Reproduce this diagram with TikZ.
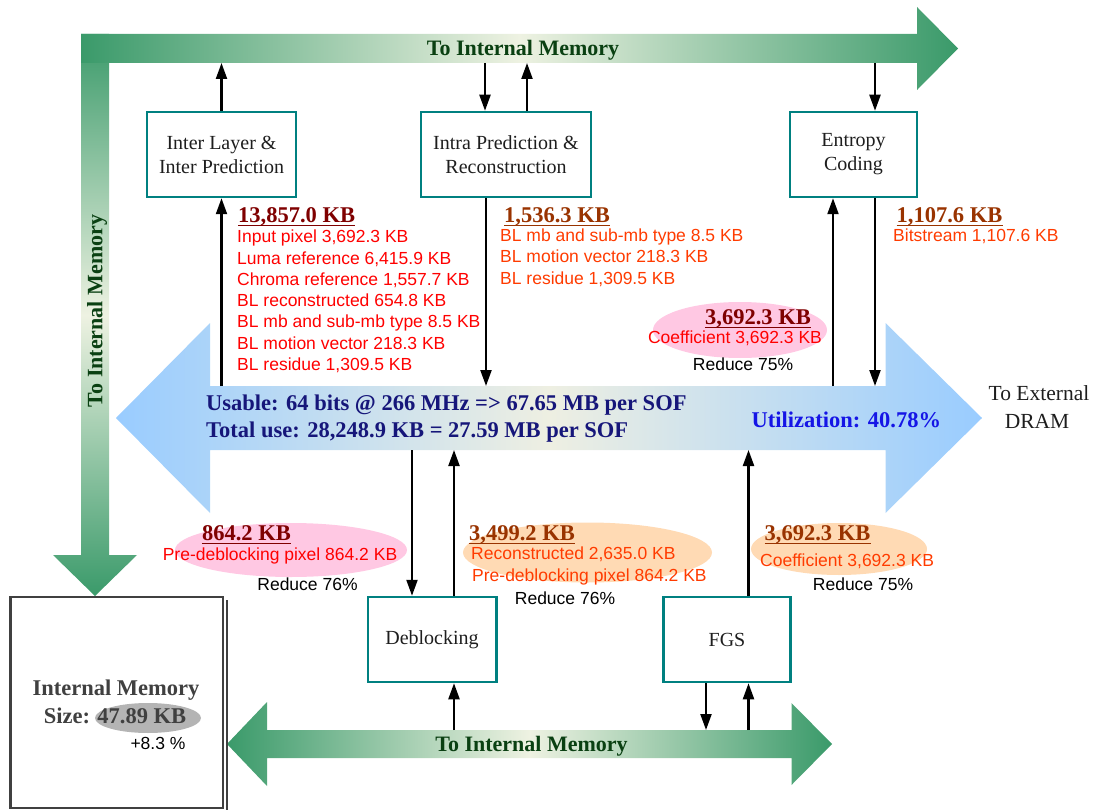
\documentclass[tikz,border=0pt]{standalone}
\usepackage{fontspec}
\setmainfont{Liberation Serif}
\newfontfamily\arialf{Liberation Sans}
\usetikzlibrary{arrows.meta}
\newcommand{\fsz}[1]{\fontsize{#1}{#1}\selectfont}
\definecolor{gdark}{HTML}{3A9A6A}
\definecolor{glight}{HTML}{EEF2E2}
\definecolor{gtext}{HTML}{0A4012}
\definecolor{bblue}{HTML}{99CCFF}
\definecolor{bivory}{HTML}{EEEFE2}
\definecolor{navy}{HTML}{16167A}
\definecolor{utilblue}{HTML}{1515E6}
\definecolor{boxteal}{HTML}{008080}
\definecolor{boxtxt}{HTML}{1E1E1E}
\definecolor{memgray}{HTML}{404040}
\definecolor{hdrred}{HTML}{7F0000}
\definecolor{hdrbrown}{HTML}{993300}
\definecolor{itred}{HTML}{FF0000}
\definecolor{itorange}{HTML}{FF3B00}
\definecolor{pinkE}{HTML}{FFC8E3}
\definecolor{peachE}{HTML}{FFDAB4}
\definecolor{grayE}{HTML}{B4B4B4}
\begin{document}
\begin{tikzpicture}[x=1pt,y=-1pt,
  conn/.style={line width=2.2pt,-{Triangle[length=16pt,width=11pt]}},
  procbox/.style={draw=boxteal,line width=2.5pt,fill=white,minimum width=#1,
    minimum height=85pt,inner sep=0pt,align=center,text=boxtxt,
    font=\fontsize{20}{24}\selectfont},
  hdr/.style={anchor=base west,inner sep=0pt,font=\fsz{22.5}\bfseries},
  hdrc/.style={anchor=base,inner sep=0pt,font=\fsz{22.5}\bfseries},
  item/.style={anchor=base west,inner sep=0pt,font=\arialf\fsz{17.5}},
  itemc/.style={anchor=base,inner sep=0pt,font=\arialf\fsz{17.5}},
  ul/.style={line width=1.5pt},
  bartext/.style={inner sep=0pt,text=gtext,font=\fsz{22}\bfseries},
  bluetext/.style={anchor=base west,inner sep=0pt,text=navy,font=\fsz{22.5}\bfseries}]
\useasboundingbox (0,0) rectangle (1097,810);

% green bars
\shade[top color=gdark,bottom color=gdark,middle color=glight]
  (81,34) -- (109,34) -- (109,555) -- (137,555) -- (95,596) -- (53,555) -- (81,555) -- cycle;
\shade[left color=gdark,right color=gdark,middle color=glight]
  (81,34) -- (917,34) -- (917,7) -- (958,48.5) -- (917,90) -- (917,63) -- (81,63) -- cycle;
\shade[left color=gdark,right color=gdark,middle color=glight]
  (227,744) -- (267,702) -- (267,730) -- (791.5,730) -- (791.5,703) -- (832,744)
  -- (791.5,785) -- (791.5,758) -- (267,758) -- (267,786) -- cycle;
% blue arrow
\shade[left color=bblue,right color=bblue,middle color=bivory]
  (116,418) -- (210,323) -- (210,386) -- (885.5,386) -- (885.5,323) -- (982,418)
  -- (885.5,513) -- (885.5,450) -- (210,450) -- (210,513) -- cycle;

\node[bartext,anchor=base] (toptxt) at (523,55.5) {To Internal Memory};
\node[bartext,anchor=base] (bottxt) at (531.5,751.5) {To Internal Memory};
\node[bartext,rotate=90] (lefttxt) at (97,311) {To Internal Memory};

% level coordinates
\coordinate (topbar) at (0,63);
\coordinate (bluetop) at (0,386);
\coordinate (bluebot) at (0,450);
\coordinate (botbar) at (0,730);

% process boxes
\node[procbox=149pt] (inter) at (221.5,154.5) {Inter Layer \&\\Inter Prediction};
\node[procbox=170pt] (intra) at (506,154.5) {Intra Prediction \&\\Reconstruction};
\node[procbox=127pt] (entropy) at (853.5,154.5) {Entropy\\Coding};
\node[procbox=128.5pt] (deblock) at (432,639.5) {Deblocking};
\node[procbox=127pt] (fgs) at (727,639.5) {FGS};

% internal memory box
\node[draw=memgray,line width=2.5pt,minimum width=212.5pt,minimum height=211pt,inner sep=0pt] (mem) at (116.75,702.5) {};
\draw[memgray,line width=2pt] (226.5,600) -- (226.5,810);
\fill[grayE] (148,718) ellipse [x radius=53pt,y radius=15pt];
\node[hdrc,text=memgray] (memt1) at (116,695.5) {Internal Memory};
\node[hdrc,text=memgray] (memt2) at (115,723.5) {Size: 47.89 KB};
\node[itemc,text=black] (memt3) at (158,749) {+8.3 \%};

% connectors
\draw[conn] (inter.north) -- (inter.north |- topbar);
\draw[conn] ([xshift=-21pt]intra.north |- topbar) -- ([xshift=-21pt]intra.north);
\draw[conn] ([xshift=21pt]intra.north) -- ([xshift=21pt]intra.north |- topbar);
\draw[conn] ([xshift=21.5pt]entropy.north |- topbar) -- ([xshift=21.5pt]entropy.north);
\draw[conn] (inter.south |- bluetop) -- (inter.south);
\draw[conn] ([xshift=-20pt]intra.south) -- ([xshift=-20pt]intra.south |- bluetop);
\draw[conn] ([xshift=-20.5pt]entropy.south |- bluetop) -- ([xshift=-20.5pt]entropy.south);
\draw[conn] ([xshift=21.5pt]entropy.south) -- ([xshift=21.5pt]entropy.south |- bluetop);
\draw[conn] ([xshift=-20pt]deblock.north |- bluebot) -- ([xshift=-20pt]deblock.north);
\draw[conn] ([xshift=22pt]deblock.north) -- ([xshift=22pt]deblock.north |- bluebot);
\draw[conn] ([xshift=21.5pt]fgs.north) -- ([xshift=21.5pt]fgs.north |- bluebot);
\draw[conn] ([xshift=22pt]deblock.south |- botbar) -- ([xshift=22pt]deblock.south);
\draw[conn] ([xshift=-21pt]fgs.south) -- ([xshift=-21pt]fgs.south |- botbar);
\draw[conn] ([xshift=21.5pt]fgs.south |- botbar) -- ([xshift=21.5pt]fgs.south);

% blue arrow texts
\node[bluetext] (use1) at (206,410.5) {Usable: 64 bits @ 266 MHz => 67.65 MB per SOF};
\node[bluetext] (use2) at (206,437.5) {Total use: 28,248.9 KB = 27.59 MB per SOF};
\node[bluetext,text=utilblue] (util) at (751.5,427.5) {Utilization: 40.78\%};
\node[anchor=base,inner sep=0pt,font=\fsz{21.5},text=boxtxt,align=center] (ext1) at (1039,400) {To External};
\node[anchor=base,inner sep=0pt,font=\fsz{21.5},text=boxtxt] (ext2) at (1037,428) {DRAM};

% left block
\node[hdr,text=hdrred] (h1) at (238,222.5) {13,857.0 KB};
\draw[ul,hdrred] ([yshift=-3pt]h1.base west) -- ([yshift=-3pt]h1.base east);
\node[item,text=itred] (l1) at (237,243) {Input pixel 3,692.3 KB};
\node[item,text=itred] (l2) at (237,264.2) {Luma reference 6,415.9 KB};
\node[item,text=itred] (l3) at (237,285.4) {Chroma reference 1,557.7 KB};
\node[item,text=itred] (l4) at (237,306.6) {BL reconstructed 654.8 KB};
\node[item,text=itred] (l5) at (237,327.8) {BL mb and sub-mb type 8.5 KB};
\node[item,text=itred] (l6) at (237,349) {BL motion vector 218.3 KB};
\node[item,text=itred] (l7) at (237,370.2) {BL residue 1,309.5 KB};

% middle block
\node[hdr,text=hdrbrown] (h2) at (504,222.5) {1,536.3 KB};
\draw[ul,hdrbrown] ([yshift=-3pt]h2.base west) -- ([yshift=-3pt]h2.base east);
\node[item,text=itorange] (m1) at (500,242) {BL mb and sub-mb type 8.5 KB};
\node[item,text=itorange] (m2) at (500,263) {BL motion vector 218.3 KB};
\node[item,text=itorange] (m3) at (500,284) {BL residue 1,309.5 KB};

% right block
\node[hdr,text=hdrbrown] (h3) at (896.5,222.5) {1,107.6 KB};
\draw[ul,hdrbrown] ([yshift=-3pt]h3.base west) -- ([yshift=-3pt]h3.base east);
\node[item,text=itorange] (r1) at (893,242) {Bitstream 1,107.6 KB};

% pink ellipse top right
\fill[pinkE] (740,330) ellipse [x radius=87pt,y radius=28pt];
\node[hdrc,text=hdrred] (h4) at (758,324.5) {3,692.3 KB};
\draw[ul,hdrred] ([yshift=-3pt]h4.base west) -- ([yshift=-3pt]h4.base east);
\node[itemc,text=itred] (p1) at (735,343) {Coefficient 3,692.3 KB};
\node[itemc,text=black] (p2) at (743,370) {Reduce 75\%};

% pink ellipse bottom left
\fill[pinkE] (291,550) ellipse [x radius=116pt,y radius=27pt];
\node[hdrc,text=hdrred] (h5) at (246.5,540.5) {864.2 KB};
\draw[ul,hdrred] ([yshift=-3pt]h5.base west) -- ([yshift=-3pt]h5.base east);
\node[itemc,text=itred] (q1) at (280,560) {Pre-deblocking pixel 864.2 KB};
\node[itemc,text=black] (q2) at (307.5,590) {Reduce 76\%};

% peach ellipse middle
\fill[peachE] (587.5,552.5) ellipse [x radius=124.5pt,y radius=30pt];
\node[hdr,text=hdrbrown] (h6) at (469,540.5) {3,499.2 KB};
\draw[ul,hdrbrown] ([yshift=-3pt]h6.base west) -- ([yshift=-3pt]h6.base east);
\node[item,text=itorange] (s1) at (471,559) {Reconstructed 2,635.0 KB};
\node[item,text=itorange] (s2) at (472,581) {Pre-deblocking pixel 864.2 KB};
\node[itemc,text=black] (s3) at (565,604) {Reduce 76\%};

% peach ellipse right
\fill[peachE] (839,549) ellipse [x radius=88pt,y radius=26pt];
\node[hdr,text=hdrbrown] (h7) at (764.5,540.5) {3,692.3 KB};
\draw[ul,hdrbrown] ([yshift=-3pt]h7.base west) -- ([yshift=-3pt]h7.base east);
\node[item,text=itorange] (t1) at (760,566) {Coefficient 3,692.3 KB};
\node[itemc,text=black] (t2) at (863,590) {Reduce 75\%};
\end{tikzpicture}
\end{document}
